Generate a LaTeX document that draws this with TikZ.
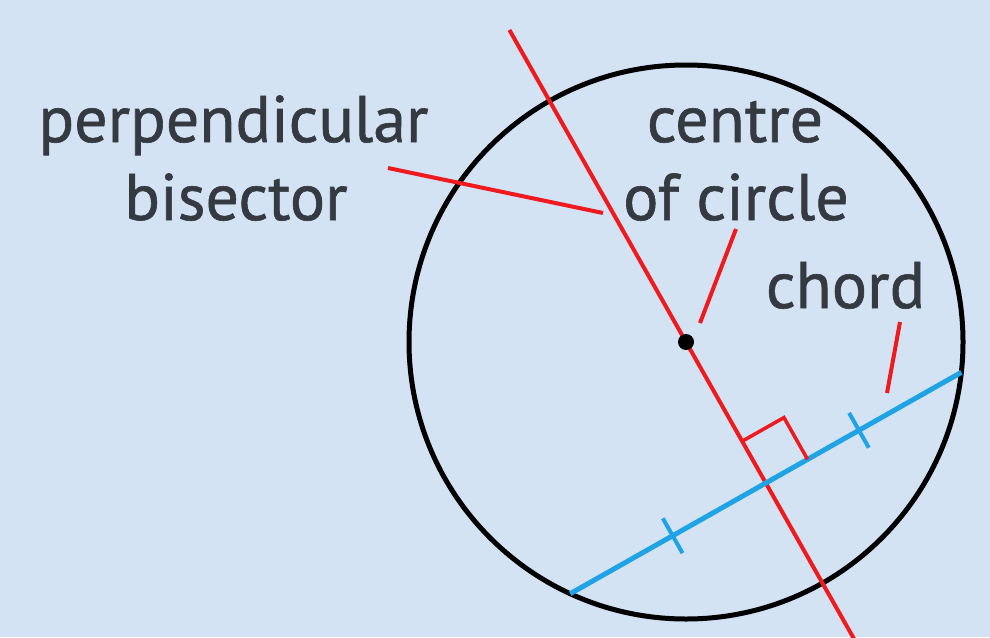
\documentclass[tikz,border=0pt]{standalone}
\usepackage{fontspec}
\setmainfont{PT Sans}[FakeBold=0.9]
\usetikzlibrary{calc}
\definecolor{bgblue}{HTML}{D3E3F4}
\definecolor{txtgray}{HTML}{353A40}
\definecolor{lnred}{HTML}{EE1A1E}
\definecolor{chblue}{HTML}{1FA3E5}
\begin{document}
\begin{tikzpicture}[x=1pt,y=-1pt,
  lbl/.style={anchor=base,inner sep=0pt,text=txtgray,font=\fontsize{66}{78}\selectfont},
  leader/.style={draw=lnred,line width=4pt},
  redline/.style={draw=lnred,line width=4pt},
  chordline/.style={draw=chblue,line width=5pt},
  tickmark/.style={draw=chblue,line width=4pt}]
\useasboundingbox (0,0) rectangle (990,637);
\fill[bgblue] (0,0) rectangle (990,637);
\begin{scope}
\clip (0,0) rectangle (990,637);
\coordinate (O) at (686,342);
% unit directions
\coordinate (r) at (0.4926,0.8704);
\coordinate (c) at (0.8704,-0.4926);
\coordinate (M) at ($(O)+162*(r)$);
\coordinate (Rtop) at ($(O)-358.5*(r)$);
\coordinate (Rbot) at ($(O)+345*(r)$);
\coordinate (A) at ($(M)-224.7*(c)$);
\coordinate (B) at ($(M)+224.7*(c)$);
\draw[black,line width=5pt] (O) circle[radius=277];
\draw[redline] (Rtop) -- (Rbot);
\draw[chordline] (A) -- (B);
% ticks
\coordinate (T1) at ($(M)+107*(c)$);
\coordinate (T2) at ($(M)-107*(c)$);
\draw[tickmark] ($(T1)-20*(r)$) -- ($(T1)+20*(r)$);
\draw[tickmark] ($(T2)-20*(r)$) -- ($(T2)+20*(r)$);
% right angle
\draw[draw=lnred,line width=3.5pt] ($(M)-48*(r)$) -- ($(M)-48*(r)+48*(c)$) -- ($(M)+48*(c)$);
\fill[black] (O) circle[radius=8];
\end{scope}
% labels
\node[lbl] (perp) at (233.5,142) {perpendicular};
\node[lbl] (bis) at (236,220) {bisector};
\node[lbl] (cen) at (735,142) {centre};
\node[lbl] (ofc) at (736,220) {of circle};
\node[lbl] (cho) at (845.5,308) {chord};
% leaders
\coordinate (Lp1) at (388,168);
\coordinate (Lp2) at (603,213);
\coordinate (Lc1) at (736,229);
\coordinate (Lc2) at (700,323);
\coordinate (Lh1) at (900,322);
\coordinate (Lh2) at (887,393);
\draw[leader] (Lp1) -- (Lp2);
\draw[leader] (Lc1) -- (Lc2);
\draw[leader] (Lh1) -- (Lh2);
\end{tikzpicture}
\end{document}
